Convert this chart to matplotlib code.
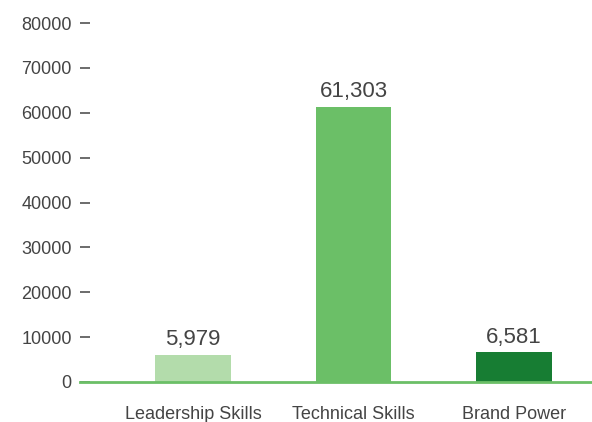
import matplotlib.pyplot as plt

categories = ['Leadership Skills', 'Technical Skills', 'Brand Power']
values = [5979, 61303, 6581]
colors = ['#b3dcab', '#6bbf67', '#177d33']
yticks = [0, 10000, 20000, 30000, 40000, 50000, 60000, 70000, 80000]

plt.rcParams['font.family'] = ['Liberation Sans', 'DejaVu Sans']

fig = plt.figure(figsize=(5.92, 4.22), dpi=100)
ax = fig.add_axes([80 / 592, 40 / 422, 512 / 592, 359 / 422])

x = list(range(len(categories)))
ax.bar(x, values, width=0.47, color=colors, zorder=2)

for xi, v in zip(x, values):
    ax.annotate(f'{v:,}', (xi, v), xytext=(0, 3.5), textcoords='offset points',
                ha='center', va='bottom', fontsize=16, color='#444444')

ax.set_xlim(-0.704, 2.486)
ax.set_ylim(0, 80000)
ax.set_yticks(yticks)
ax.set_yticklabels([str(t) for t in yticks])
ax.set_xticks(x)
ax.set_xticklabels(categories)

for s in ['top', 'right', 'left']:
    ax.spines[s].set_visible(False)
ax.spines['bottom'].set_color('#6bbf67')
ax.spines['bottom'].set_linewidth(2)
ax.spines['bottom'].set_zorder(3)

ax.tick_params(axis='y', direction='in', length=7.5, width=1.1, color='#444444',
               labelsize=13, labelcolor='#444444', pad=6)
ax.tick_params(axis='x', length=0, labelsize=13, labelcolor='#444444', pad=17)

fig.savefig('out.png', dpi=100)
